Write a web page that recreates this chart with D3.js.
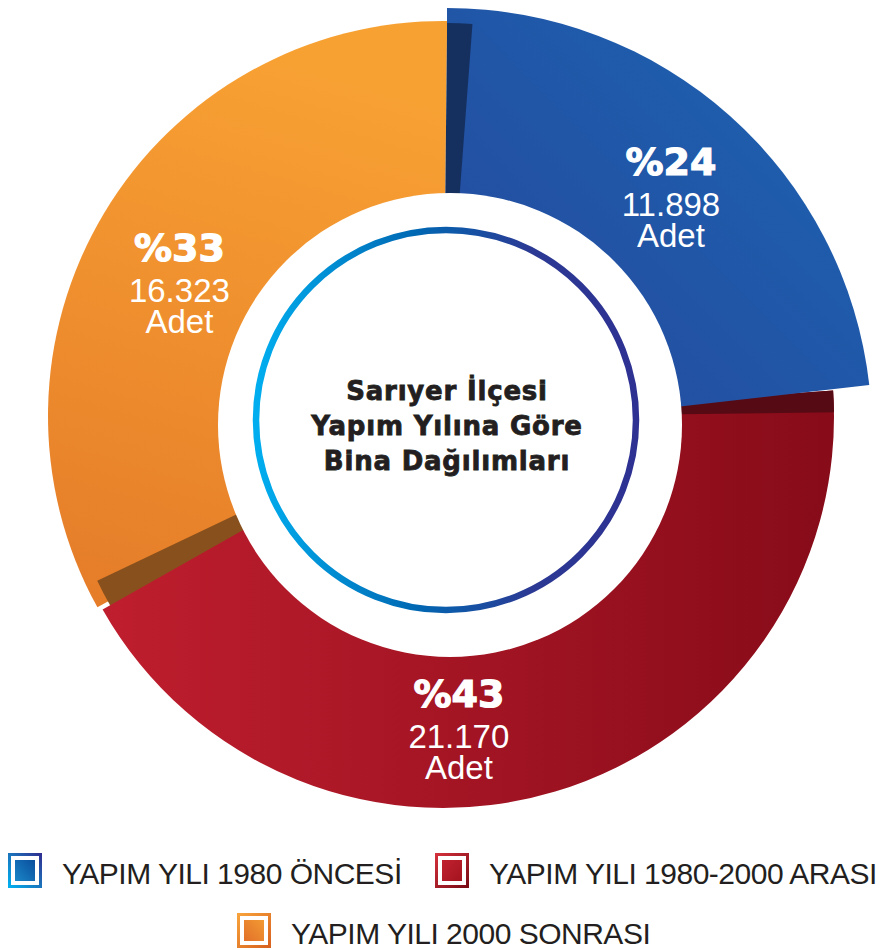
<!DOCTYPE html>
<html>
<head>
<meta charset="utf-8">
<script src="https://cdn.jsdelivr.net/npm/d3@7"></script>
<style>
  body { margin: 0; background: #fff; }
  svg { display: block; }
</style>
</head>
<body>
<svg id="chart" width="880" height="950"></svg>
<script>
// data
const categories = ["YAPIM YILI 1980 ÖNCESİ", "YAPIM YILI 1980-2000 ARASI", "YAPIM YILI 2000 SONRASI"];
const counts = [11898, 21170, 16323];
const percentLabels = ["%24", "%43", "%33"];
const countLabels = ["11.898", "21.170", "16.323"];
const unitLabel = "Adet";
const titleLines = ["Sarıyer İlçesi", "Yapım Yılına Göre", "Bina Dağılımları"];

const svg = d3.select("#chart");
const defs = svg.append("defs");
const deg = Math.PI / 180;

function linGrad(id, x1, y1, x2, y2, stops) {
  const g = defs.append("linearGradient").attr("id", id)
    .attr("x1", x1).attr("y1", y1).attr("x2", x2).attr("y2", y2);
  stops.forEach(s => g.append("stop").attr("offset", s[0]).attr("stop-color", s[1]));
}
linGrad("gBlue", 0, 1, 1, 0, [[0, "#26479b"], [1, "#1c65b3"]]);
linGrad("gRed", 0, 0, 1, 0, [[0, "#bf1e2e"], [1, "#870b19"]]);
linGrad("gOrange", 0.3, 0, 0.1, 1, [[0, "#f8a133"], [1, "#e57c29"]]);
linGrad("gRing", 0, 0, 1, 0, [[0, "#00aeef"], [0.42, "#0068b3"], [0.72, "#2b3a94"], [1, "#2e3192"]]);
linGrad("bBlueBorder", 0, 1, 1, 0, [[0, "#00aeef"], [0.5, "#1b75bc"], [1, "#2e3192"]]);
linGrad("bBlueFill", 0, 1, 1, 0, [[0, "#1a86c8"], [1, "#0a4e9e"]]);
linGrad("bRedBorder", 0, 0, 1, 1, [[0, "#d2303a"], [1, "#7a0c16"]]);
linGrad("bRedFill", 0, 0, 1, 1, [[0, "#c1212f"], [1, "#a3141f"]]);
linGrad("bOrangeBorder", 0, 0, 1, 1, [[0, "#f7a23a"], [1, "#d8621f"]]);
linGrad("bOrangeFill", 1, 0, 0, 1, [[0, "#f29a33"], [1, "#e2702a"]]);

const pie = d3.pie().sort(null).value(d => d)(counts);
const [pBlue, pRed, pOrange] = pie;

const center = { x: 443, y: 416 };
const R = 393;

function wedge(cx, cy, r, a0, a1, fill) {
  svg.append("path")
    .attr("transform", `translate(${cx},${cy})`)
    .attr("d", d3.arc().innerRadius(0).outerRadius(r).startAngle(a0).endAngle(a1)())
    .attr("fill", fill);
}

// orange slice + shadow cast by red
wedge(center.x, center.y, 395, pOrange.startAngle, pOrange.endAngle + 0.6 * deg, "url(#gOrange)");
wedge(center.x, center.y, 383, pOrange.startAngle - 1 * deg, pOrange.startAngle + 3.5 * deg, "#87501d");

// red slice + shadow cast by blue
wedge(443, 417, 391, pRed.startAngle - 0.6 * deg, pRed.endAngle - 0.5 * deg, "url(#gRed)");
wedge(443, 417, 391, pRed.startAngle - 0.6 * deg, pRed.startAngle + 2.6 * deg, "#560a13");

// lifted blue slice
wedge(447, 433, 425, pBlue.startAngle, pBlue.endAngle - 3.2 * deg, "url(#gBlue)");
wedge(center.x, center.y, R, pBlue.startAngle + 0.6 * deg, pBlue.startAngle + 4.3 * deg, "#15305f");

// hole
svg.append("circle").attr("cx", 450).attr("cy", 425).attr("r", 232).attr("fill", "#fff");
svg.append("circle").attr("cx", 446).attr("cy", 420).attr("r", 190)
  .attr("fill", "none").attr("stroke", "url(#gRing)").attr("stroke-width", 6.5);

// title
const title = svg.append("text")
  .attr("text-anchor", "middle")
  .attr("font-family", "DejaVu Sans")
  .attr("font-weight", "bold")
  .attr("font-size", 26)
  .attr("letter-spacing", 0.8)
  .attr("fill", "#231f20")
  .attr("stroke", "#231f20")
  .attr("stroke-width", 0.8);
titleLines.forEach((t, i) => {
  title.append("tspan").attr("x", 447).attr("y", 400 + i * 35).text(t);
});

// slice labels
const labelShift = [0, 13, 0];
const labelRadius = [332, 291, 306];
pie.forEach((d, i) => {
  const a = (d.startAngle + d.endAngle) / 2 + labelShift[i] * deg;
  const x = center.x + labelRadius[i] * Math.sin(a);
  const y = center.y - labelRadius[i] * Math.cos(a);
  const g = svg.append("g").attr("fill", "#fff").attr("text-anchor", "middle");
  g.append("text").attr("x", x).attr("y", y)
    .attr("font-family", "DejaVu Sans").attr("font-weight", "bold").attr("font-size", 38)
    .attr("stroke", "#fff").attr("stroke-width", 1.2)
    .text(percentLabels[i]);
  g.append("text").attr("x", x).attr("y", y + 41)
    .attr("font-family", "Liberation Sans").attr("font-size", 33)
    .text(countLabels[i]);
  g.append("text").attr("x", x).attr("y", y + 72)
    .attr("font-family", "Liberation Sans").attr("font-size", 33)
    .text(unitLabel);
});

// legend
const legendPos = [{ x: 8, y: 853 }, { x: 435, y: 853 }, { x: 237, y: 913 }];
const legendBorder = ["url(#bBlueBorder)", "url(#bRedBorder)", "url(#bOrangeBorder)"];
const legendFill = ["url(#bBlueFill)", "url(#bRedFill)", "url(#bOrangeFill)"];
categories.forEach((c, i) => {
  const p = legendPos[i];
  const g = svg.append("g").attr("transform", `translate(${p.x},${p.y})`);
  g.append("rect").attr("x", 1.5).attr("y", 1.5).attr("width", 31).attr("height", 32)
    .attr("fill", "#fff").attr("stroke", legendBorder[i]).attr("stroke-width", 3);
  g.append("rect").attr("x", 7).attr("y", 7).attr("width", 20).attr("height", 21)
    .attr("fill", legendFill[i]);
  g.append("text").attr("x", 54).attr("y", 31)
    .attr("font-family", "Liberation Sans").attr("font-size", 30)
    .attr("letter-spacing", -0.5)
    .attr("fill", "#231f20")
    .text(c);
});
</script>
</body>
</html>
